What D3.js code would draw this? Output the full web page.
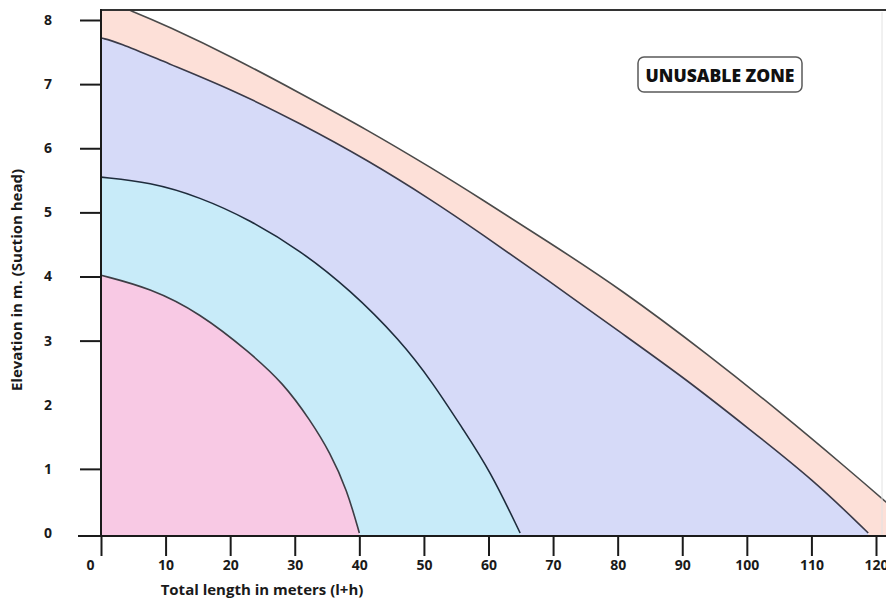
<!DOCTYPE html>
<html>
<head>
<meta charset="utf-8">
<script src="https://cdn.jsdelivr.net/npm/d3@7"></script>
<style>
  html, body { margin: 0; padding: 0; background: #fff; }
  svg { display: block; }
  text { font-family: "Open Sans", "DejaVu Sans", sans-serif; }
</style>
</head>
<body>
<div id="chart"></div>
<script>
// ---- data ----
const xTicks = [0, 10, 20, 30, 40, 50, 60, 70, 80, 90, 100, 110, 120];
const yTicks = [0, 1, 2, 3, 4, 5, 6, 7, 8];
const yTicksWithoutMark = [0, 2];

const xTitle = "Total length in meters (l+h)";
const yTitle = "Elevation in m. (Suction head)";
const zoneLabel = "UNUSABLE ZONE";

// innermost zone (pink)
const pinkX = [0, 7.6, 15.3, 23.1, 28.2, 32.4, 35.5, 38.1, 40.0];
const pinkY = [4.02, 3.82, 3.43, 2.81, 2.34, 1.76, 1.25, 0.67, 0];
// second zone (light blue)
const blueX = [0, 7.6, 15.3, 23.1, 30.8, 38.6, 46.3, 51.4, 56.1, 60.2, 64.9];
const blueY = [5.55, 5.47, 5.24, 4.88, 4.41, 3.79, 3.01, 2.34, 1.61, 0.98, 0];
// third zone (lavender)
const lavX = [0, 2.5, 10.2, 20.4, 30.8, 41.2, 51.4, 58.7, 69.1, 80.4, 90.7, 100.0, 110.3, 118.8];
const lavY = [7.72, 7.66, 7.33, 6.91, 6.39, 5.82, 5.18, 4.68, 3.95, 3.13, 2.39, 1.65, 0.83, 0];
// outer band (peach)
const peachX = [0, 4.8, 10.2, 20.4, 30.8, 41.2, 51.4, 58.7, 69.1, 80.4, 94.3, 105.1, 115.5, 121.6, 127];
const peachY = [8.33, 8.14, 7.91, 7.42, 6.86, 6.29, 5.68, 5.22, 4.55, 3.81, 2.76, 1.89, 1.01, 0.48, 0];

// ---- layout ----
const W = 886, H = 600;
const plotLeft = 101, plotTop = 10, plotBottom = 536, plotRight = 886;

const svg = d3.select("#chart").append("svg")
  .attr("width", W).attr("height", H);

const x = d3.scaleLinear().domain([0, 120]).range([101, 876]);
const y = d3.scaleLinear().domain([0, 8]).range([533, 20]);

const zip = (xs, ys) => xs.map((v, i) => [v, ys[i]]);

svg.append("defs").append("clipPath").attr("id", "plotclip")
  .append("rect")
  .attr("x", plotLeft).attr("y", plotTop)
  .attr("width", plotRight - plotLeft + 10)
  .attr("height", plotBottom - plotTop);

const area = d3.area()
  .x(d => x(d[0]))
  .y0(plotBottom)
  .y1(d => y(d[1]))
  .curve(d3.curveBasis);

const line = d3.line()
  .x(d => x(d[0]))
  .y(d => y(d[1]))
  .curve(d3.curveBasis);

const zones = [
  { data: zip(peachX, peachY), fill: "#fde0d8", stroke: "#4a4a4a" },
  { data: zip(lavX, lavY), fill: "#d6daf8", stroke: "#3a3a48" },
  { data: zip(blueX, blueY), fill: "#c8ebf9", stroke: "#1f2c3c" },
  { data: zip(pinkX, pinkY), fill: "#f8c9e4", stroke: "#3d3d45" }
];

const g = svg.append("g").attr("clip-path", "url(#plotclip)");
g.selectAll("path.zone").data(zones).join("path")
  .attr("class", "zone")
  .attr("d", d => area(d.data))
  .attr("fill", d => d.fill);
g.selectAll("path.edge").data(zones).join("path")
  .attr("class", "edge")
  .attr("d", d => line(d.data))
  .attr("fill", "none")
  .attr("stroke", d => d.stroke)
  .attr("stroke-width", 1.6);

// faint right frame line
svg.append("line")
  .attr("x1", 882).attr("x2", 882).attr("y1", plotTop + 2).attr("y2", plotBottom)
  .attr("stroke", "#e2e2e2").attr("stroke-width", 1);

// top frame line
svg.append("line")
  .attr("x1", plotLeft).attr("x2", plotRight).attr("y1", plotTop).attr("y2", plotTop)
  .attr("stroke", "#333").attr("stroke-width", 2);

// x axis
const xAxis = svg.append("g")
  .attr("transform", `translate(0,${plotBottom})`)
  .call(d3.axisBottom(x).tickValues(xTicks).tickSize(20).tickSizeOuter(0).tickPadding(4).tickFormat(d3.format("d")));
xAxis.select(".domain").remove();
xAxis.selectAll(".tick line").attr("stroke", "#1a1a1a").attr("stroke-width", 2);
xAxis.selectAll(".tick text")
  .attr("fill", "#1a1a1a")
  .style("font-family", "'Open Sans', sans-serif")
  .style("font-size", "14px").style("font-weight", 700)
  .attr("dx", d => d === 0 ? -11 : 0);
svg.append("line")
  .attr("x1", 78).attr("x2", plotRight).attr("y1", plotBottom).attr("y2", plotBottom)
  .attr("stroke", "#1a1a1a").attr("stroke-width", 2);

// y axis
const yAxis = svg.append("g")
  .attr("transform", `translate(${plotLeft},0)`)
  .call(d3.axisLeft(y).tickValues(yTicks).tickSize(21).tickSizeOuter(0).tickPadding(28).tickFormat(d3.format("d")));
yAxis.select(".domain").remove();
yAxis.selectAll(".tick line")
  .attr("stroke", "#1a1a1a").attr("stroke-width", 2)
  .attr("opacity", d => yTicksWithoutMark.includes(d) ? 0 : 1);
yAxis.selectAll(".tick text")
  .attr("fill", "#1a1a1a")
  .style("font-family", "'Open Sans', sans-serif")
  .style("font-size", "14px").style("font-weight", 700);
svg.append("line")
  .attr("x1", plotLeft).attr("x2", plotLeft).attr("y1", plotTop - 1).attr("y2", plotBottom)
  .attr("stroke", "#1a1a1a").attr("stroke-width", 2);

// axis titles
svg.append("text")
  .attr("x", 262).attr("y", 595)
  .attr("text-anchor", "middle")
  .attr("fill", "#1a1a1a")
  .style("font-size", "15px").style("font-weight", 700)
  .text(xTitle);

svg.append("text")
  .attr("transform", "translate(22,280) rotate(-90)")
  .attr("text-anchor", "middle")
  .attr("fill", "#1a1a1a")
  .style("font-size", "15px").style("font-weight", 700)
  .text(yTitle);

// unusable zone label
svg.append("rect")
  .attr("x", 638).attr("y", 57).attr("width", 164).attr("height", 35)
  .attr("rx", 6).attr("ry", 6)
  .attr("fill", "#fff").attr("stroke", "#5a5a5a").attr("stroke-width", 1.5);
svg.append("text")
  .attr("x", 720).attr("y", 75)
  .attr("text-anchor", "middle").attr("dominant-baseline", "central")
  .attr("fill", "#111")
  .style("font-size", "17.5px").style("font-weight", 800)
  .text(zoneLabel);
</script>
</body>
</html>
